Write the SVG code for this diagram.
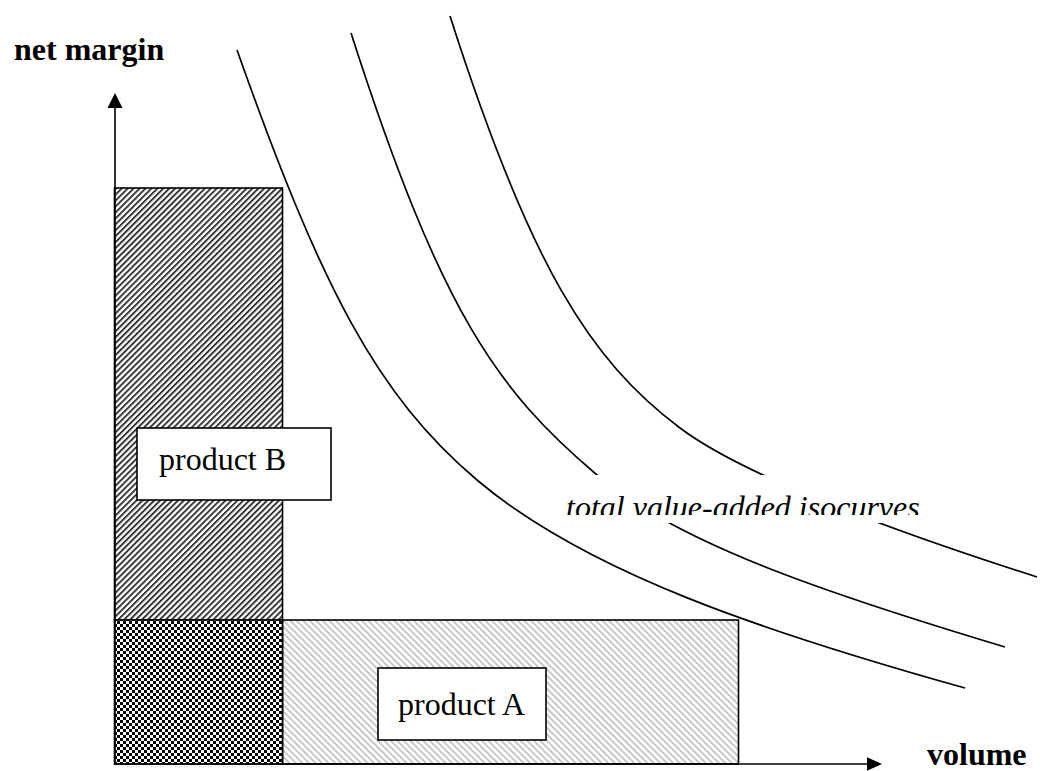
<svg xmlns="http://www.w3.org/2000/svg" width="1040" height="771" viewBox="0 0 1040 771">
  <style>
    .axis { stroke: #000; stroke-width: 1.6; fill: none; }
    .curve { stroke: #000; stroke-width: 1.7; fill: none; }
    .frame { stroke: #000; stroke-width: 1.6; }
    .box { fill: #fff; stroke: #000; stroke-width: 1.6; }
    .lbl { font-family: "Liberation Serif", "Times New Roman", serif; font-size: 32px; fill: #000; }
    .bold { font-weight: bold; }
    .ital { font-style: italic; }
  </style>
  <defs>
    <!-- dense dark "/" hatching -->
    <pattern id="hatchDark" width="4.2" height="4.2" patternUnits="userSpaceOnUse" patternTransform="rotate(45)">
      <rect width="4.2" height="4.2" fill="#fff"/>
      <rect x="0" y="0" width="1.9" height="4.2" fill="#333"/>
    </pattern>
    <!-- light grey "\" hatching -->
    <pattern id="hatchLight" width="4.6" height="4.6" patternUnits="userSpaceOnUse" patternTransform="rotate(-45)">
      <rect width="4.6" height="4.6" fill="#fff"/>
      <rect x="0" y="0" width="1.8" height="4.6" fill="#c4c4c4"/>
    </pattern>
    <!-- small checkerboard -->
    <pattern id="checker" width="6" height="6" patternUnits="userSpaceOnUse">
      <rect width="6" height="6" fill="#fff"/>
      <rect x="0" y="0" width="3" height="3" fill="#000"/>
      <rect x="3" y="3" width="3" height="3" fill="#000"/>
    </pattern>
    <clipPath id="labelClip">
      <rect x="540" y="470" width="420" height="45"/>
    </clipPath>
  </defs>

  <rect width="1040" height="771" fill="#fff"/>

  <!-- iso-value curves -->
  <g id="isocurves">
    <path class="curve" d="M237,50 C322,290 377,395 477,480 C587,573 765,632 965,688"/>
    <path class="curve" d="M351,33 C441,313 497,390 597,475 C677,543 825,593 1005,647"/>
    <path class="curve" d="M450,16 C530,266 590,360.5 680,428 C750,480.5 917,538.6 1037,577"/>
  </g>

  <!-- product regions -->
  <g id="regionB">
    <rect x="114.5" y="188" width="168" height="432" fill="url(#hatchDark)" class="frame"/>
  </g>
  <g id="regionA">
    <rect x="282.5" y="620" width="456" height="144" fill="url(#hatchLight)" class="frame"/>
  </g>
  <g id="overlap">
    <rect x="114.5" y="620" width="168" height="144" fill="url(#checker)" class="frame"/>
  </g>

  <!-- axes -->
  <g id="axes">
    <line class="axis" x1="115" y1="764" x2="115" y2="106"/>
    <polygon points="115,93 107.5,108 122.5,108" fill="#000"/>
    <line class="axis" x1="114" y1="764" x2="869" y2="764"/>
    <polygon points="882,764 867,757.3 867,770.7" fill="#000"/>
  </g>

  <!-- axis titles -->
  <g id="yTitle">
    <text class="lbl bold" x="14" y="60">net margin</text>
  </g>
  <g id="xTitle">
    <text class="lbl bold" x="927" y="765">volume</text>
  </g>

  <!-- product labels -->
  <g id="productB">
    <rect class="box" x="137" y="428" width="194" height="72"/>
    <text class="lbl" x="159" y="470">product B</text>
  </g>
  <g id="productA">
    <rect class="box" x="378" y="668" width="168" height="72"/>
    <text class="lbl" x="398" y="715">product A</text>
  </g>

  <!-- curve caption -->
  <g id="curveCaption">
    <rect x="548" y="475" width="412" height="48" fill="#fff"/>
    <text class="lbl ital" x="566" y="518" clip-path="url(#labelClip)">total value-added isocurves</text>
  </g>
</svg>
